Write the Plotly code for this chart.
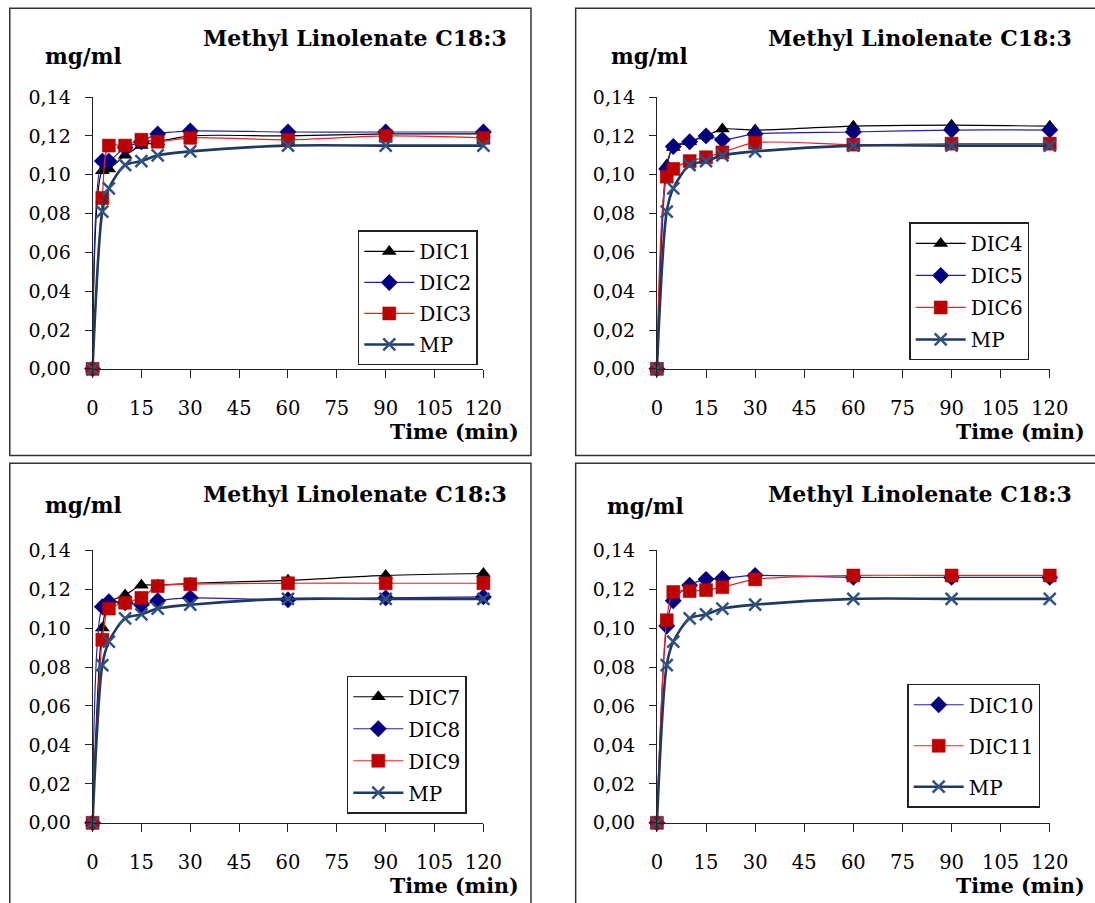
import plotly.graph_objects as go

# ---------------- data ----------------
time_min = [0, 3, 5, 10, 15, 20, 30, 60, 90, 120]

mp = [0, 0.081, 0.093, 0.105, 0.107, 0.110, 0.112, 0.115, 0.115, 0.115]

dic1 = [0, 0.102, 0.103, 0.110, 0.115, 0.117, 0.120, 0.120, 0.121, 0.121]
dic2 = [0, 0.107, 0.107, 0.114, 0.117, 0.121, 0.1225, 0.122, 0.122, 0.122]
dic3 = [0, 0.088, 0.115, 0.115, 0.118, 0.117, 0.119, 0.118, 0.120, 0.119]

dic4 = [0, 0.105, 0.114, 0.117, 0.120, 0.1235, 0.123, 0.125, 0.1255, 0.125]
dic5 = [0, 0.103, 0.1145, 0.117, 0.120, 0.118, 0.121, 0.122, 0.123, 0.123]
dic6 = [0, 0.099, 0.103, 0.107, 0.109, 0.1115, 0.1165, 0.1155, 0.116, 0.116]

dic7 = [0, 0.100, 0.113, 0.117, 0.122, 0.122, 0.123, 0.1245, 0.127, 0.128]
dic8 = [0, 0.111, 0.1135, 0.113, 0.112, 0.114, 0.1155, 0.1145, 0.1155, 0.116]
dic9 = [0, 0.094, 0.110, 0.113, 0.1155, 0.1215, 0.1225, 0.123, 0.123, 0.123]

dic10 = [0, 0.101, 0.114, 0.122, 0.125, 0.1255, 0.127, 0.126, 0.126, 0.126]
dic11 = [0, 0.104, 0.1185, 0.119, 0.1195, 0.121, 0.125, 0.127, 0.127, 0.127]

x_ticks = [0, 15, 30, 45, 60, 75, 90, 105, 120]
title_text = "Methyl Linolenate C18:3"
y_label = "mg/ml"
x_label = "Time (min)"

panels = [
    [("DIC1", dic1, "black"), ("DIC2", dic2, "blue"), ("DIC3", dic3, "red"), ("MP", mp, "mp")],
    [("DIC4", dic4, "black"), ("DIC5", dic5, "blue"), ("DIC6", dic6, "red"), ("MP", mp, "mp")],
    [("DIC7", dic7, "black"), ("DIC8", dic8, "blue"), ("DIC9", dic9, "red"), ("MP", mp, "mp")],
    [("DIC10", dic10, "blue"), ("DIC11", dic11, "red"), ("MP", mp, "mp")],
]

# ---------------- styles ----------------
W, H = 1095, 903
FONT = "DejaVu Serif"

# compensation for the way the page is photographed
SX, BX = 0.98, 5.2
SY, BY = 0.975, 10.7

def px(x):
    return ((x - BX) / SX) / W

def py(y):
    return 1 - ((y - BY) / SY) / H

styles = {
    "black": dict(line=dict(color="#000000", width=1.2),
                  marker=dict(symbol="triangle-up", size=13, color="#000000")),
    "blue": dict(line=dict(color="#2222A8", width=1.2),
                 marker=dict(symbol="diamond", size=13, color="#000080")),
    "red": dict(line=dict(color="#F02020", width=1.2),
                marker=dict(symbol="square", size=13, color="#C00000",
                            line=dict(color="#A00000", width=0.5))),
    "mp": dict(line=dict(color="#1E3A60", width=2.6),
               marker=dict(symbol="x-thin", size=12, color="#2F5280",
                           line=dict(color="#2F5280", width=2.5))),
}

geo = [
    dict(xa=(92, 484), ya=(96.7, 368.3), box=(9, 8, 531.7, 455), leg=(358, 230, 2),
         title=(510, 38), ylab=(42, 56), xlab=(522, 431)),
    dict(xa=(658, 1052), ya=(96.7, 368.3), box=(576.5, 8, 1120, 455), leg=(911, 222, 3),
         title=(1076, 38), ylab=(610, 56), xlab=(1089, 431)),
    dict(xa=(92, 484), ya=(549.5, 822), box=(9, 462.7, 531.7, 925), leg=(347, 675, 3),
         title=(510, 493), ylab=(42, 505), xlab=(522, 885)),
    dict(xa=(658, 1052), ya=(549.5, 822), box=(576.5, 462.7, 1120, 925), leg=(909, 683, 12),
         title=(1076, 493), ylab=(606, 506), xlab=(1089, 885)),
]

fig = go.Figure()
shapes = []
annotations = []
layout_axes = {}

for i, (series, g) in enumerate(zip(panels, geo)):
    n = i + 1
    xname = "x" if n == 1 else f"x{n}"
    yname = "y" if n == 1 else f"y{n}"
    legname = "legend" if n == 1 else f"legend{n}"
    for name, vals, sty in series:
        s = styles[sty]
        fig.add_trace(go.Scatter(
            x=time_min, y=vals, name=name, mode="lines+markers",
            line=dict(shape="spline", smoothing=0.8, **s["line"]),
            marker=s["marker"], xaxis=xname, yaxis=yname,
            legend=legname, legendgroup=f"p{n}{name}", cliponaxis=False,
        ))
    xa_key = "xaxis" if n == 1 else f"xaxis{n}"
    ya_key = "yaxis" if n == 1 else f"yaxis{n}"
    layout_axes[xa_key] = dict(
        domain=[px(g["xa"][0]), px(g["xa"][1])], anchor=yname,
        range=[0, 120], tickvals=x_ticks, ticks="outside", ticklen=8,
        tickwidth=1, tickcolor="#222", showline=True, linecolor="#222",
        linewidth=1, showgrid=False, zeroline=False,
        tickfont=dict(family=FONT, size=19.5, color="black"),
        ticklabelstandoff=14,
    )
    layout_axes[ya_key] = dict(
        domain=[py(g["ya"][1]), py(g["ya"][0])], anchor=xname,
        range=[0, 0.14], dtick=0.02, tickformat=".2f", ticks="outside",
        ticklen=7, tickwidth=1, tickcolor="#222", showline=True,
        linecolor="#222", linewidth=1, showgrid=False, zeroline=False,
        tickfont=dict(family=FONT, size=19, color="black"),
        ticklabelstandoff=10,
    )
    lx, ly, gap = g["leg"]
    layout_axes[legname] = dict(
        x=px(lx), y=py(ly), xanchor="left", yanchor="top",
        bordercolor="#222", borderwidth=1.5, bgcolor="white",
        font=dict(family=FONT, size=20, color="black"),
        itemwidth=50, tracegroupgap=gap, traceorder="grouped",
    )
    bx0, by0, bx1, by1 = g["box"]
    shapes.append(dict(type="rect", xref="paper", yref="paper",
                       x0=px(bx0), x1=px(bx1), y0=py(by0), y1=py(by1),
                       line=dict(color="#333", width=1.5)))
    annotations.append(dict(text=f"<b>{title_text}</b>", xref="paper", yref="paper",
                            x=px(g["title"][0]), y=py(g["title"][1]), xanchor="right",
                            yanchor="middle", showarrow=False,
                            font=dict(family=FONT, size=22, color="black")))
    annotations.append(dict(text=f"<b>{y_label}</b>", xref="paper", yref="paper",
                            x=px(g["ylab"][0]), y=py(g["ylab"][1]), xanchor="left",
                            yanchor="middle", showarrow=False,
                            font=dict(family=FONT, size=21.5, color="black")))
    annotations.append(dict(text=f"<b>{x_label}</b>", xref="paper", yref="paper",
                            x=px(g["xlab"][0]), y=py(g["xlab"][1]), xanchor="right",
                            yanchor="middle", showarrow=False,
                            font=dict(family=FONT, size=20.5, color="black")))

fig.update_layout(
    width=W, height=H, autosize=False,
    margin=dict(l=0, r=0, t=0, b=0),
    paper_bgcolor="white", plot_bgcolor="white",
    separators=", ",
    showlegend=True,
    shapes=shapes, annotations=annotations,
    **layout_axes,
)

fig.write_html(
    "out.html",
    config={"displayModeBar": False},
    post_script="document.body.style.margin='0px';document.body.style.overflow='hidden';",
)
